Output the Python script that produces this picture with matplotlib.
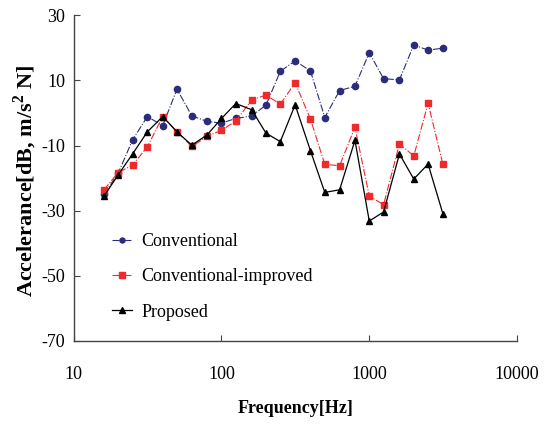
import matplotlib
matplotlib.use("Agg")
import matplotlib.pyplot as plt
from matplotlib.ticker import FixedLocator, NullLocator

# 1/3 octave band centre frequencies
freq = [16, 20, 25, 31.5, 40, 50, 63, 80, 100, 125, 160, 200, 250, 315,
        400, 500, 630, 800, 1000, 1250, 1600, 2000, 2500, 3150]

conventional = [-25.0, -18.5, -8.3, -1.1, -3.9, 7.3, -0.9, -2.6, -3.1, -1.7,
                -0.9, 2.4, 12.8, 16.0, 12.9, -1.4, 6.9, 8.2, 18.5, 10.5,
                10.2, 20.9, 19.3, 19.9]
improved = [-23.6, -18.3, -16.0, -10.4, -1.1, -5.8, -10.3, -7.2, -5.3, -2.5,
            4.0, 5.5, 2.7, 9.3, -1.9, -15.8, -16.2, -4.4, -25.5, -28.2,
            -9.5, -13.2, 3.0, -15.8]
proposed = [-25.6, -19.0, -12.6, -5.8, -1.1, -5.8, -9.9, -6.7, -1.7, 2.9,
            1.0, -6.2, -8.8, 2.5, -11.6, -24.4, -23.6, -8.4, -33.2, -30.4,
            -12.6, -20.3, -15.7, -31.0]

x_ticks = [10, 100, 1000, 10000]
x_labels = ["10", "100", "1000", "10000"]
y_ticks = [-70, -50, -30, -10, 10, 30]

plt.rcParams['font.family'] = ['Liberation Serif', 'DejaVu Serif']
plt.rcParams['axes.unicode_minus'] = False
plt.rcParams['mathtext.fontset'] = 'custom'
plt.rcParams['mathtext.rm'] = 'Liberation Serif'
plt.rcParams['mathtext.bf'] = 'Liberation Serif:bold'

fig = plt.figure(figsize=(5.46, 4.25), dpi=100)
ax = fig.add_axes([0.135, 0.198, 0.812, 0.766])

ax.plot(freq, conventional, color='#2b2d7c', linestyle='-.', linewidth=0.8,
        marker='o', markersize=4.5, label='Conventional')
ax.plot(freq, improved, color='#ee2a2a', linestyle='-.', linewidth=0.8,
        marker='s', markersize=5, label='Conventional-improved')
ax.plot(freq, proposed, color='black', linestyle='-', linewidth=0.9,
        marker='^', markersize=5, label='Proposed')

ax.set_xscale('log')
ax.set_xlim(10, 10000)
ax.set_ylim(-70, 30)
ax.xaxis.set_major_locator(FixedLocator(x_ticks))
ax.xaxis.set_minor_locator(NullLocator())
ax.set_xticklabels(x_labels)
ax.set_yticks(y_ticks)

ax.spines['top'].set_visible(False)
ax.spines['right'].set_visible(False)
for s in ['left', 'bottom']:
    ax.spines[s].set_color('#444444')
    ax.spines[s].set_linewidth(1.0)
ax.tick_params(direction='in', length=4, width=0.8, labelsize=13, color='#444444')
ax.tick_params(axis='x', pad=18)
ax.tick_params(axis='y', pad=6)

ax.set_xlabel('Frequency[Hz]', fontsize=13, fontweight='bold', labelpad=12)
ax.set_ylabel(r'Accelerance[dB, m/s$^\mathbf{2}$ N]', fontsize=16,
              fontweight='bold')
ax.yaxis.set_label_coords(-0.078, 0.49)

ax.legend(loc='upper left', bbox_to_anchor=(0.05, 0.38), frameon=False,
          fontsize=13, handlelength=1.1, handletextpad=0.5, labelspacing=1.0,
          markerscale=0.8)

fig.savefig('out.png', dpi=100)
